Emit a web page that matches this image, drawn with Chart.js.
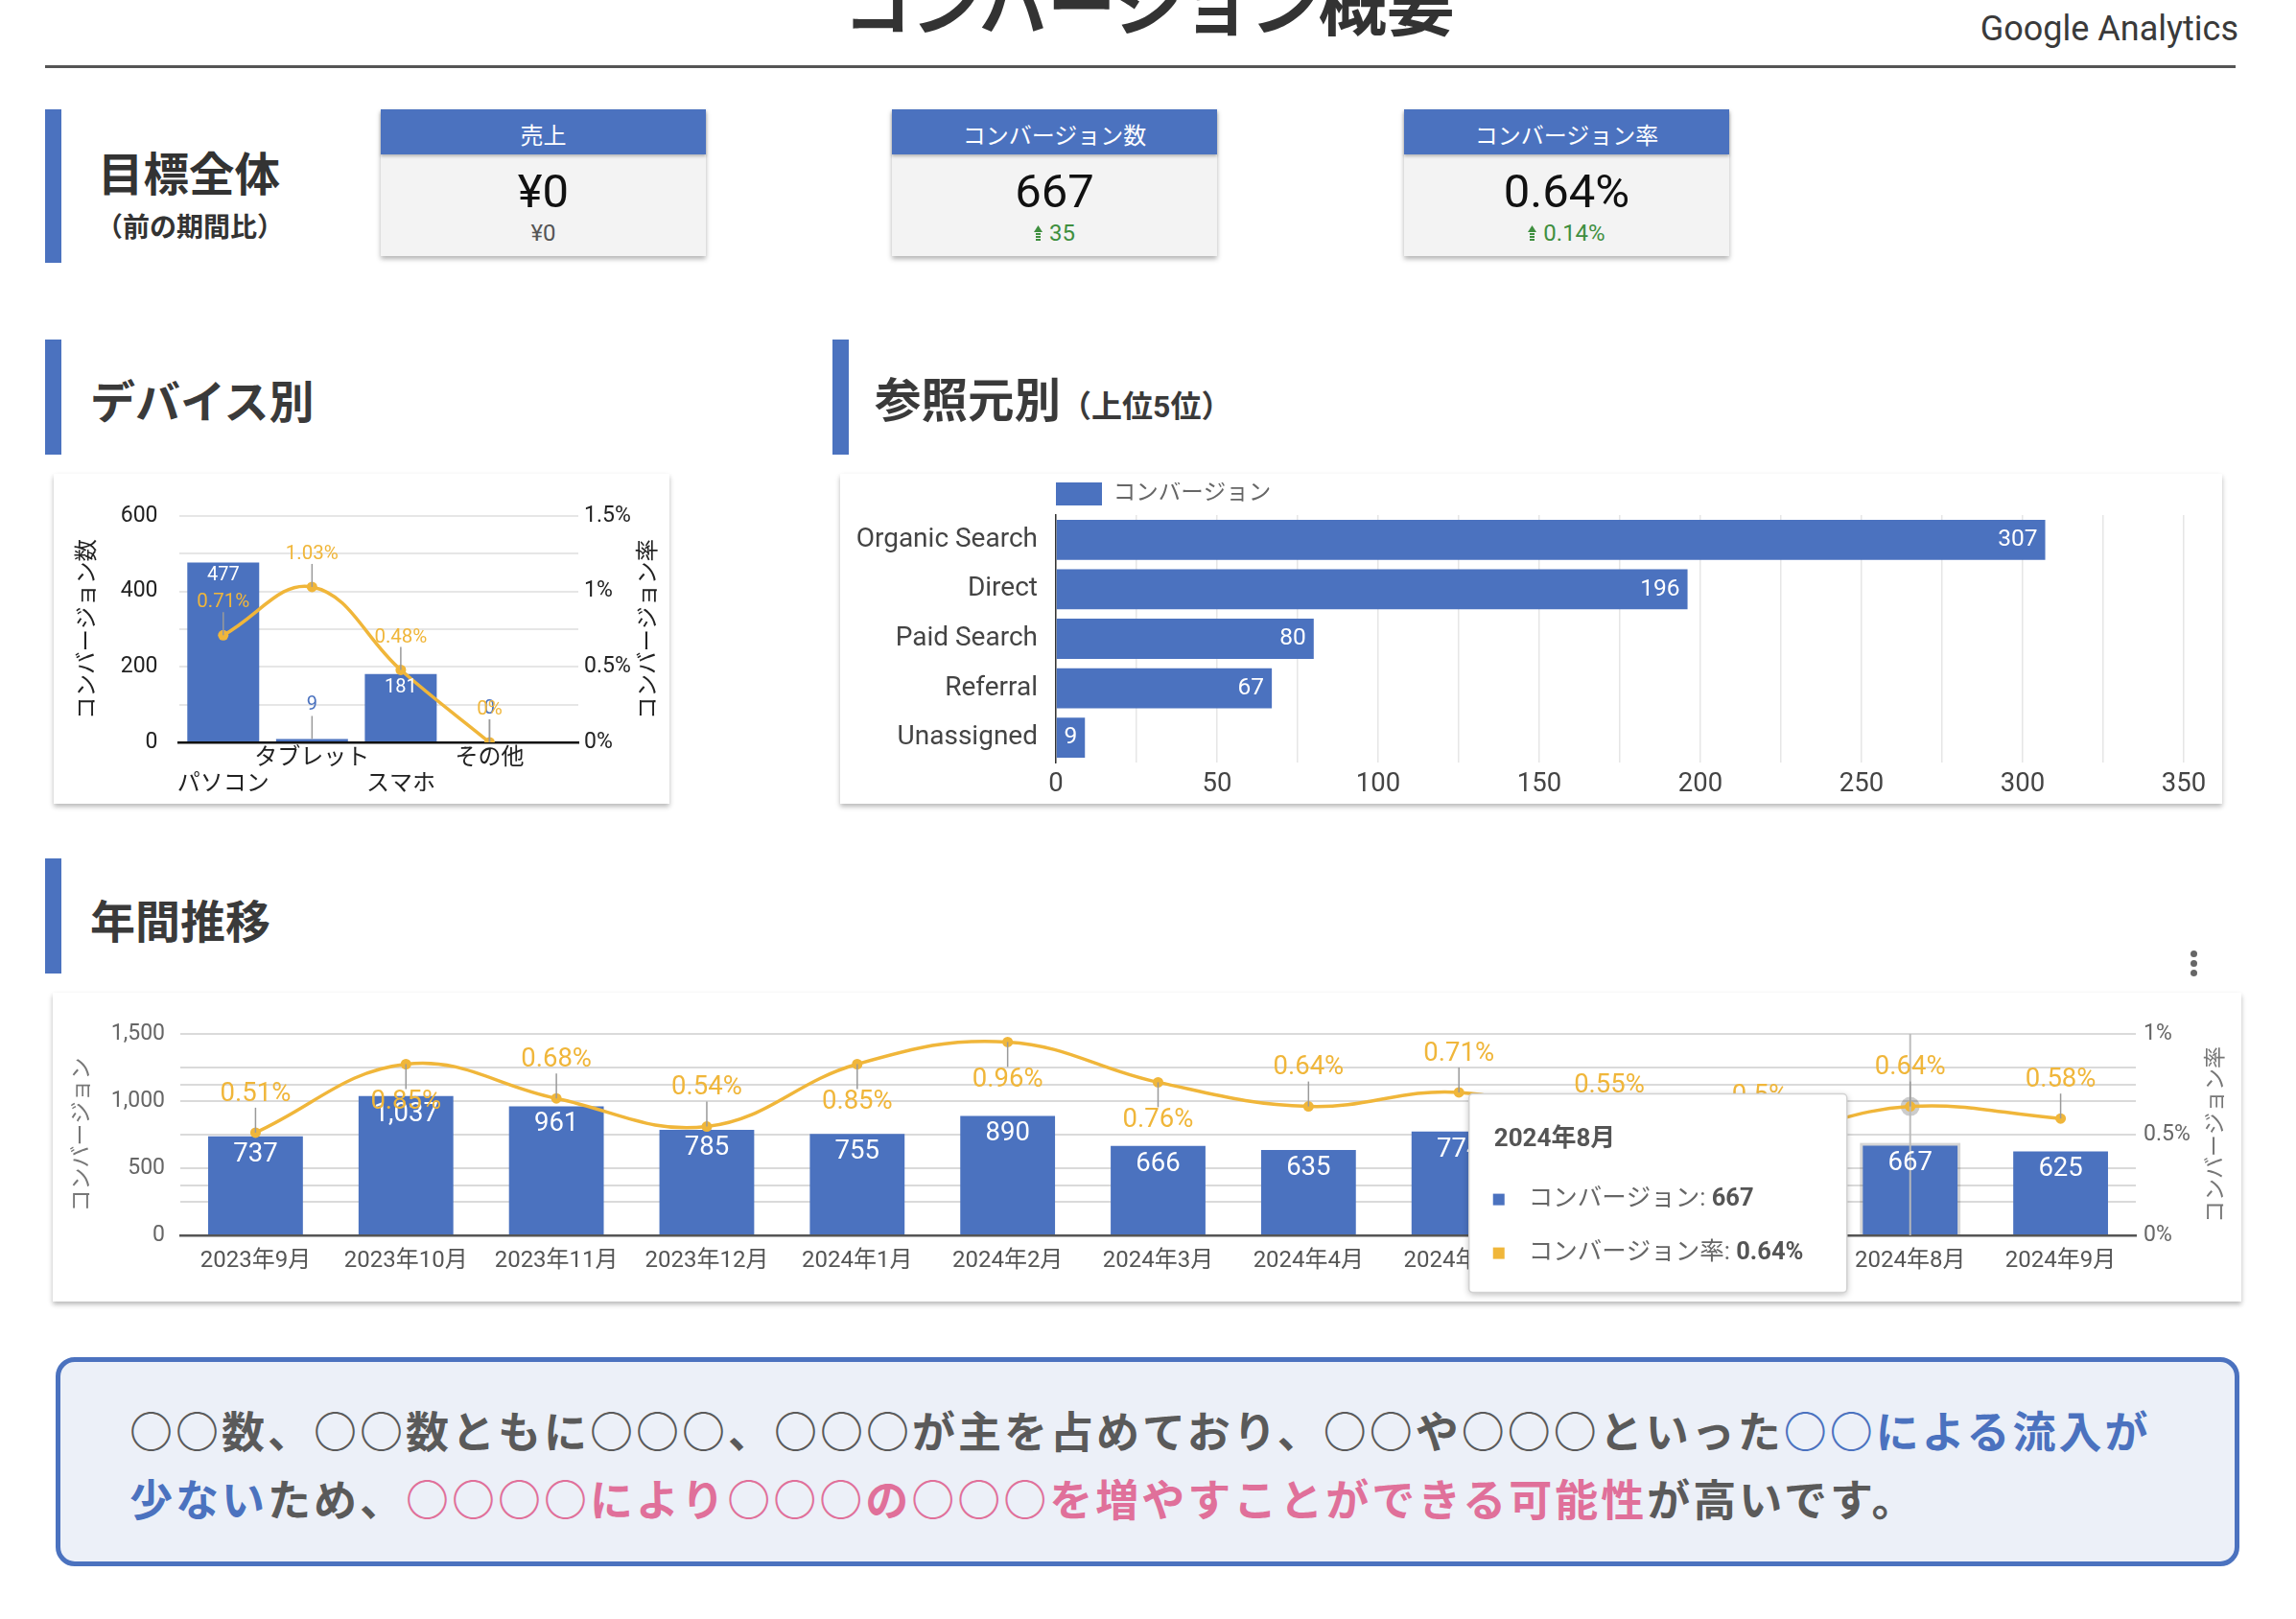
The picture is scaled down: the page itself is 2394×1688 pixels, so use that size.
<!DOCTYPE html>
<html lang="ja">
<head>
<meta charset="utf-8">
<script src="https://cdn.jsdelivr.net/npm/chart.js@4"></script>
<style>
html,body{margin:0;padding:0;background:#fff;}
body{width:2394px;height:1688px;position:relative;overflow:hidden;font-family:Roboto,'Noto Sans CJK JP',sans-serif;}
.a{position:absolute;line-height:1;white-space:nowrap;}
.bar{position:absolute;width:17px;background:#4b72bf;}
.h{font-weight:700;color:#3a3a3a;font-size:47px;}
.card{position:absolute;background:#fff;box-shadow:0 3px 5px rgba(0,0,0,.28);}
.kpi{position:absolute;top:114px;width:339px;height:153px;background:#f3f3f3;box-shadow:0 3px 5px rgba(0,0,0,.3);}
.kh{position:absolute;left:0;top:0;width:100%;height:47px;box-sizing:border-box;padding-top:16px;background:#4b72bf;color:#fff;font-size:24px;line-height:1;text-align:center;box-shadow:0 2px 3px rgba(0,0,0,.25);}
.kv{position:absolute;left:0;top:61px;width:100%;text-align:center;font-size:49px;line-height:1;color:#111;}
.ks{position:absolute;left:0;top:117px;width:100%;text-align:center;font-size:24px;line-height:1;color:#3f8f3f;}
.ks svg{display:inline-block;vertical-align:baseline;margin-right:7px;}
.dots span{position:absolute;left:0;width:7px;height:7px;border-radius:50%;background:#666;}
.note{position:absolute;left:58px;top:1415px;width:2277px;height:218px;box-sizing:border-box;border:5px solid #4b72bf;border-radius:20px;background:#ecf0f8;}
.note p{position:absolute;margin:0;left:72px;top:39px;font-size:45px;letter-spacing:3px;line-height:71px;font-weight:700;color:#5a5a5a;white-space:nowrap;}
.b{color:#4b72bf;} .p{color:#e0709a;}
</style>
</head>
<body>
<div class="a" style="left:0;width:2396px;text-align:center;top:-29px;font-size:71px;font-weight:700;color:#333;">コンバージョン概要</div>
<div class="a" style="right:60px;top:12px;font-size:36px;color:#3a3a3a;">Google Analytics</div>
<div class="a" style="left:47px;top:68px;width:2284px;height:3px;background:#555;"></div>

<div class="bar" style="left:47px;top:114px;height:160px;"></div>
<div class="a" style="left:97px;width:200px;text-align:center;top:160px;font-size:47.5px;font-weight:700;color:#333;">目標全体</div>
<div class="a" style="left:98px;width:200px;text-align:center;top:224px;font-size:28px;font-weight:700;color:#333;">（前の期間比）</div>
<div id="kpis"></div>

<div class="bar" style="left:47px;top:354px;height:120px;"></div>
<div class="a h" style="left:94px;top:396px;">デバイス別</div>
<div class="bar" style="left:868px;top:354px;height:120px;"></div>
<div class="a h" style="left:912px;top:395px;font-size:48.5px;">参照元別<span style="font-size:32px;">（上位5位）</span></div>
<div class="bar" style="left:47px;top:895px;height:120px;"></div>
<div class="a h" style="left:94px;top:938px;">年間推移</div>
<div class="dots a" style="left:2284px;top:991px;width:7px;height:30px;"><span style="top:0"></span><span style="top:10px"></span><span style="top:20px"></span></div>

<div class="card" style="left:56px;top:494px;width:642px;height:344px;"><canvas id="dev" width="642" height="344" style="width:642px;height:344px;"></canvas></div>
<div class="card" style="left:876px;top:494px;width:1441px;height:344px;"><canvas id="ref" width="1441" height="344" style="width:1441px;height:344px;"></canvas></div>
<div class="card" style="left:55px;top:1035px;width:2282px;height:322px;"><canvas id="year" width="2282" height="322" style="width:2282px;height:322px;"></canvas></div>

<div class="note"><p>○○数、○○数ともに○○○、○○○が主を占めており、○○や○○○といった<span class="b">○○による流入が</span><br><span class="b">少ない</span>ため、<span class="p">○○○○により○○○の○○○を増やすことができる可能性</span>が高いです。</p></div>

<script>
// ---------- data ----------
const kpiTitles = ['売上', 'コンバージョン数', 'コンバージョン率'];
const kpiValues = ['¥0', '667', '0.64%'];
const kpiDeltas = ['¥0', '35', '0.14%'];
const kpiUp = [false, true, true];

const devCats = ['パソコン', 'タブレット', 'スマホ', 'その他'];
const devConv = [477, 9, 181, 0];
const devRate = [0.71, 1.03, 0.48, 0];

const refCats = ['Organic Search', 'Direct', 'Paid Search', 'Referral', 'Unassigned'];
const refConv = [307, 196, 80, 67, 9];

const months = ['2023年9月','2023年10月','2023年11月','2023年12月','2024年1月','2024年2月','2024年3月','2024年4月','2024年5月','2024年6月','2024年7月','2024年8月','2024年9月'];
const monthConv = [737, 1037, 961, 785, 755, 890, 666, 635, 774, 690, 632, 667, 625];
const monthRate = [0.51, 0.85, 0.68, 0.54, 0.85, 0.96, 0.76, 0.64, 0.71, 0.55, 0.5, 0.64, 0.58];
const seriesNames = ['コンバージョン', 'コンバージョン率'];
const hoverIndex = 11;

// ---------- KPI cards ----------
const kpiLeft = [397, 930, 1464];
const arrow = '<svg width="9" height="16" viewBox="0 0 9 16"><polygon points="0,7 4.5,0 9,7" fill="#3f8f3f"/><rect x="2" y="8" width="5" height="2" fill="#3f8f3f"/><rect x="2" y="11" width="5" height="2" fill="#3f8f3f"/><rect x="2" y="14" width="5" height="2" fill="#3f8f3f"/></svg>';
document.getElementById('kpis').innerHTML = kpiTitles.map((t, i) =>
  `<div class="kpi" style="left:${kpiLeft[i]}px"><div class="kh">${t}</div><div class="kv">${kpiValues[i]}</div>` +
  `<div class="ks" style="color:${kpiUp[i] ? '#3f8f3f' : '#555'}">${kpiUp[i] ? arrow : ''}${kpiDeltas[i]}</div></div>`).join('');

// ---------- charts ----------
const FONT = "Roboto, 'Noto Sans CJK JP', sans-serif";
Chart.defaults.font.family = FONT;
const BLUE = '#4b72bf', ORANGE = '#f0b63a', LEADER = '#9a9a9a';
const fmtPct = v => (Math.round(v * 100) / 100) + '%';
const isHalf = v => Math.abs(v * 2 - Math.round(v * 2)) < 1e-6;

function leader(ctx, x, y1, y2) {
  ctx.save(); ctx.strokeStyle = LEADER; ctx.lineWidth = 1.5;
  ctx.beginPath(); ctx.moveTo(x, y1); ctx.lineTo(x, y2); ctx.stroke(); ctx.restore();
}
function rightTitle(chart, text, x, color, size) {
  const ctx = chart.ctx, a = chart.chartArea;
  ctx.save(); ctx.translate(x, (a.top + a.bottom) / 2); ctx.rotate(-Math.PI / 2);
  ctx.font = size + 'px ' + FONT; ctx.fillStyle = color; ctx.textAlign = 'center'; ctx.textBaseline = 'middle';
  ctx.fillText(text, 0, 0); ctx.restore();
}

// Device chart
const devPlugin = {
  id: 'devLabels',
  afterDatasetsDraw(chart) {
    const ctx = chart.ctx;
    const bars = chart.getDatasetMeta(0).data, pts = chart.getDatasetMeta(1).data;
    ctx.save(); ctx.textAlign = 'center'; ctx.textBaseline = 'middle';
    bars.forEach((b, i) => {
      ctx.font = '20px ' + FONT;
      if (b.base - b.y > 30) { ctx.fillStyle = '#fff'; ctx.fillText(String(devConv[i]), b.x, b.y + 14); }
      else { leader(ctx, b.x, b.y, b.y - 24); ctx.fillStyle = BLUE; ctx.fillText(String(devConv[i]), b.x, b.y - 35); }
    });
    pts.forEach((p, i) => {
      leader(ctx, p.x, p.y, p.y - 24);
      ctx.font = '20.5px ' + FONT; ctx.fillStyle = ORANGE; ctx.fillText(fmtPct(devRate[i]), p.x, p.y - 34);
    });
    ctx.restore();
  },
  afterDraw(chart) { rightTitle(chart, seriesNames[1], 621, '#222', 23.5); }
};

new Chart(document.getElementById('dev'), {
  type: 'bar',
  data: { datasets: [
    { type: 'bar', label: 'コンバージョン数', data: devCats.map((c, i) => ({ x: i, y: devConv[i] })), backgroundColor: BLUE, yAxisID: 'y', order: 1, barPercentage: 0.9, categoryPercentage: 0.9 },
    { type: 'line', label: seriesNames[1], data: devCats.map((c, i) => ({ x: i, y: devRate[i] })), borderColor: ORANGE, backgroundColor: ORANGE, borderWidth: 3.5, pointRadius: 5.5, pointBorderWidth: 0, tension: 0.4, yAxisID: 'y1', order: 0 }
  ] },
  options: {
    responsive: false, devicePixelRatio: 1, animation: false, events: [],
    layout: { padding: { top: 44, left: 0, right: 0, bottom: 0 } },
    plugins: { legend: { display: false }, tooltip: { enabled: false } },
    scales: {
      x: { type: 'linear', min: -0.5, max: 4, offset: false,
        grid: { display: false, drawTicks: false, offset: false }, border: { display: true, color: '#111', width: 2.5 },
        afterBuildTicks: s => { s.ticks = devCats.map((c, i) => ({ value: i })); },
        ticks: { autoSkip: false, maxRotation: 0, padding: 3, color: '#222', font: { size: 24, lineHeight: 1.15 },
          callback: v => { const i = Math.round(v); return i % 2 === 0 ? ['', devCats[i]] : [devCats[i], '']; } },
        afterFit: s => { s.height = 64; } },
      y: { position: 'left', min: 0, max: 600,
        ticks: { stepSize: 100, padding: 22, color: '#222', font: { size: 23 }, callback: v => v % 200 === 0 ? v : '' },
        grid: { color: c => c.tick.value === 0 ? 'rgba(0,0,0,0)' : '#e6e6e6', lineWidth: 2, drawTicks: false }, border: { display: false },
        title: { display: true, text: 'コンバージョン数', color: '#222', font: { size: 23.5 }, padding: { top: 22, bottom: 0 } },
        afterFit: s => { s.width = 130.5; } },
      y1: { position: 'right', min: 0, max: 1.5,
        ticks: { stepSize: 0.25, padding: 6, color: '#222', font: { size: 23 }, callback: v => isHalf(v) ? fmtPct(v) : '' },
        grid: { display: false, drawTicks: false }, border: { display: false },
        afterFit: s => { s.width = 95; } }
    }
  },
  plugins: [devPlugin]
});

// Referral chart
const refPlugin = {
  id: 'refLabels',
  afterDatasetsDraw(chart) {
    const ctx = chart.ctx;
    ctx.save(); ctx.textAlign = 'right'; ctx.textBaseline = 'middle'; ctx.font = '24.5px ' + FONT; ctx.fillStyle = '#fff';
    chart.getDatasetMeta(0).data.forEach((b, i) => ctx.fillText(String(refConv[i]), b.x - 8, b.y));
    ctx.restore();
  }
};
new Chart(document.getElementById('ref'), {
  type: 'bar',
  data: { labels: refCats, datasets: [{ label: seriesNames[0], data: refConv, backgroundColor: BLUE, barPercentage: 0.9, categoryPercentage: 0.9 }] },
  options: {
    indexAxis: 'y', responsive: false, devicePixelRatio: 1, animation: false, events: [],
    layout: { padding: { top: 9, right: 40, left: 0, bottom: 0 } },
    plugins: {
      legend: { display: true, position: 'top', align: 'start', fullSize: false,
        labels: { boxWidth: 48, boxHeight: 24, padding: 0, color: '#666', font: { size: 23.5 } } },
      tooltip: { enabled: false }
    },
    scales: {
      x: { min: 0, max: 350,
        ticks: { stepSize: 25, padding: 7, color: '#444', font: { size: 27.5 }, callback: v => v % 50 === 0 ? v : '' },
        grid: { color: '#e6e6e6', lineWidth: 1.5, drawTicks: false }, border: { display: false },
        afterFit: s => { s.height = 43; } },
      y: { ticks: { padding: 19, color: '#444', font: { size: 28 } },
        grid: { display: false, drawTicks: false }, border: { display: true, color: '#333', width: 1.5 },
        afterFit: s => { s.width = 225; } }
    }
  },
  plugins: [refPlugin]
});

// Yearly chart
const yearPlugin = {
  id: 'yearLabels',
  beforeDatasetsDraw(chart) {
    const ctx = chart.ctx;
    const b = chart.getDatasetMeta(0).data[hoverIndex], p = chart.getDatasetMeta(1).data[hoverIndex];
    ctx.save();
    ctx.fillStyle = 'rgba(0,0,0,0.16)';
    ctx.fillRect(b.x - b.width / 2 - 3, b.y - 3, b.width + 6, b.base - b.y + 3);
    ctx.beginPath(); ctx.arc(p.x, p.y, 10, 0, Math.PI * 2); ctx.fillStyle = 'rgba(0,0,0,0.2)'; ctx.fill();
    ctx.restore();
  },
  afterDatasetsDraw(chart) {
    const ctx = chart.ctx, a = chart.chartArea;
    const bars = chart.getDatasetMeta(0).data, pts = chart.getDatasetMeta(1).data;
    const hp = pts[hoverIndex];
    ctx.save();
    ctx.strokeStyle = 'rgba(185,185,185,0.95)'; ctx.lineWidth = 2;
    ctx.beginPath(); ctx.moveTo(hp.x, a.top); ctx.lineTo(hp.x, a.bottom); ctx.stroke();
    ctx.textAlign = 'center'; ctx.textBaseline = 'middle'; ctx.font = '27.5px ' + FONT;
    bars.forEach((b, i) => { ctx.fillStyle = '#fff'; ctx.fillText(monthConv[i].toLocaleString('en-US'), b.x, b.y + 19); });
    pts.forEach((p, i) => {
      const below = p.y - 40 - 13 < a.top;
      const dir = below ? 1 : -1;
      leader(ctx, p.x, p.y, p.y + dir * 26);
      ctx.fillStyle = ORANGE; ctx.fillText(fmtPct(monthRate[i]), p.x, p.y + dir * 40);
    });
    ctx.restore();
  },
  afterDraw(chart) {
    rightTitle(chart, seriesNames[1], 2256, '#777', 23);
    const ctx = chart.ctx;
    const p = chart.getDatasetMeta(1).data[hoverIndex];
    const w = 394, h = 207, x = p.x - 66 - w, y = p.y - 13;
    ctx.save();
    ctx.shadowColor = 'rgba(0,0,0,0.28)'; ctx.shadowBlur = 7; ctx.shadowOffsetY = 2;
    ctx.beginPath(); ctx.roundRect(x, y, w, h, 4); ctx.fillStyle = '#fff'; ctx.fill();
    ctx.shadowColor = 'transparent';
    ctx.strokeStyle = '#d2d2d2'; ctx.lineWidth = 1.5; ctx.stroke();
    ctx.textAlign = 'left'; ctx.textBaseline = 'middle';
    ctx.font = 'bold 26px ' + FONT; ctx.fillStyle = '#555';
    ctx.fillText(months[hoverIndex], x + 26, y + 48);
    const rows = [
      [seriesNames[0] + ': ', monthConv[hoverIndex].toLocaleString('en-US'), BLUE],
      [seriesNames[1] + ': ', fmtPct(monthRate[hoverIndex]), ORANGE]
    ];
    rows.forEach((r, k) => {
      const cy = y + 110 + k * 56;
      ctx.fillStyle = r[2]; ctx.fillRect(x + 25, cy - 6, 12, 12);
      ctx.font = '25.5px ' + FONT; ctx.fillStyle = '#666'; ctx.fillText(r[0], x + 62, cy);
      const wl = ctx.measureText(r[0]).width;
      ctx.font = 'bold 25.5px ' + FONT; ctx.fillStyle = '#555'; ctx.fillText(r[1], x + 62 + wl, cy);
    });
    ctx.restore();
  }
};
new Chart(document.getElementById('year'), {
  type: 'bar',
  data: { labels: months, datasets: [
    { type: 'bar', label: seriesNames[0], data: monthConv, backgroundColor: BLUE, yAxisID: 'y', order: 1, barPercentage: 0.9, categoryPercentage: 0.7 },
    { type: 'line', label: seriesNames[1], data: monthRate, borderColor: ORANGE, backgroundColor: ORANGE, borderWidth: 3.5, pointRadius: 5.5, pointBorderWidth: 0, tension: 0.4, yAxisID: 'y1', order: 0 }
  ] },
  options: {
    responsive: false, devicePixelRatio: 1, animation: false, events: [],
    layout: { padding: { top: 43, left: 0, right: 0, bottom: 0 } },
    plugins: { legend: { display: false }, tooltip: { enabled: false } },
    scales: {
      x: { grid: { display: false, drawTicks: false }, border: { display: true, color: '#555', width: 2.5 },
        ticks: { padding: 13, color: '#555', font: { size: 24 }, autoSkip: false, maxRotation: 0 },
        afterFit: s => { s.height = 69; } },
      y: { position: 'left', min: 0, max: 1500,
        ticks: { stepSize: 250, padding: 16, color: '#666', font: { size: 23 }, callback: v => v % 500 === 0 ? v.toLocaleString('en-US') : '' },
        grid: { color: c => c.tick.value === 0 ? 'rgba(0,0,0,0)' : '#dadada', lineWidth: 2, drawTicks: false }, border: { display: false },
        title: { display: true, text: seriesNames[0], color: '#777', font: { size: 23 }, padding: { top: 17, bottom: 0 } },
        afterFit: s => { s.width = 133; } },
      y1: { position: 'right', min: 0, max: 1,
        ticks: { stepSize: 0.25, padding: 8, color: '#666', font: { size: 23 }, callback: v => isHalf(v) ? fmtPct(v) : '' },
        grid: { color: c => c.tick.value === 0 ? 'rgba(0,0,0,0)' : '#dadada', lineWidth: 2, drawTicks: false }, border: { display: false },
        afterFit: s => { s.width = 110; } }
    }
  },
  plugins: [yearPlugin]
});
</script>
</body>
</html>
